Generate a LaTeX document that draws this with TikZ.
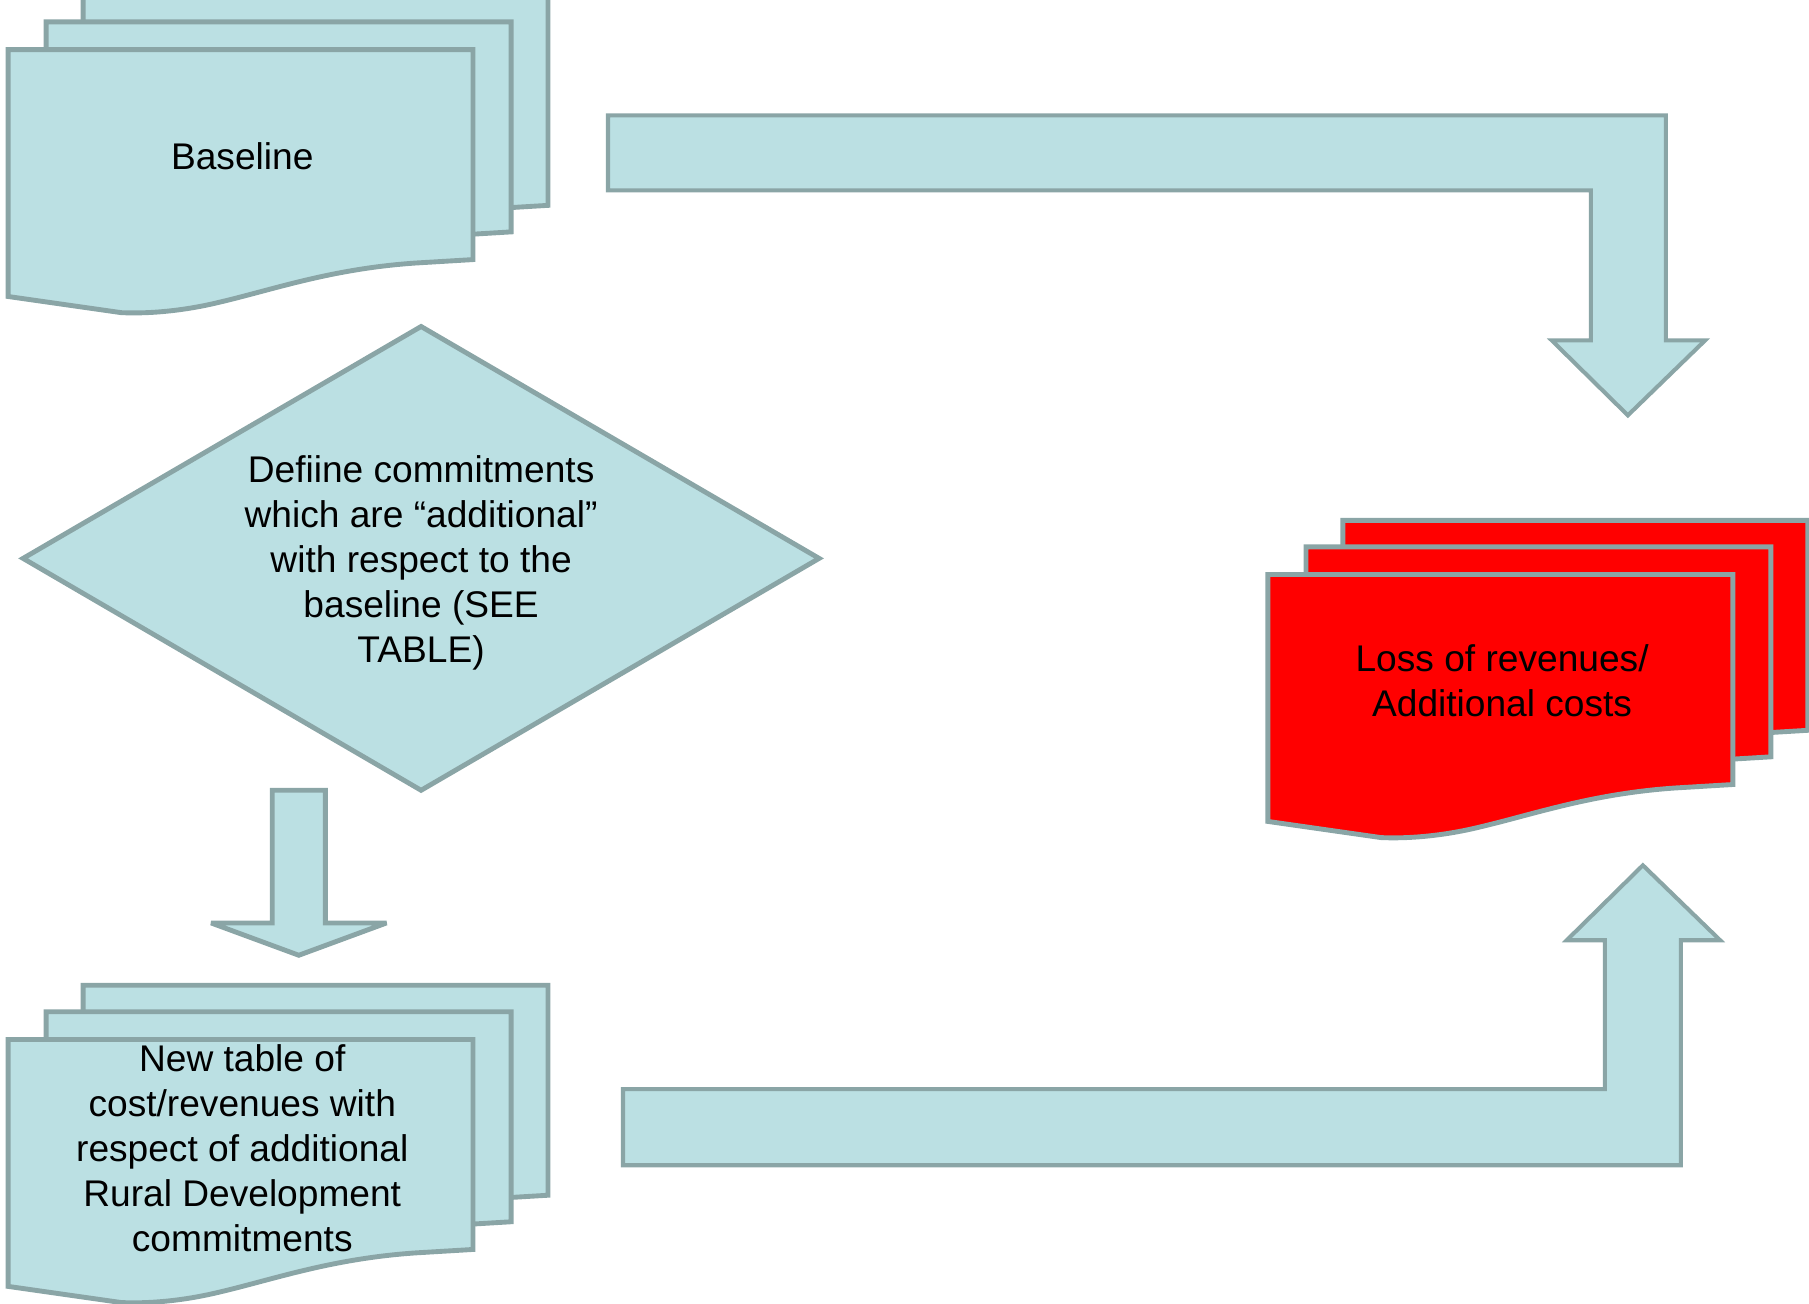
\documentclass[tikz,border=0pt]{standalone}
\usepackage{fontspec}
\setmainfont{Liberation Sans}
\definecolor{docfill}{RGB}{187,224,227}
\definecolor{docline}{RGB}{138,165,166}
\definecolor{docred}{RGB}{255,0,0}
\tikzset{
  sheet/.style={draw=docline, line width=1.2pt, line join=miter},
  blockarrow/.style={draw=docline, fill=docfill, line width=1pt, line join=miter, miter limit=3},
  label/.style={align=center, text=black, font=\fontsize{9.15}{11.1}\selectfont, inner sep=0pt}
}
\newcommand{\docsheet}[3]{%
  \filldraw[sheet, fill=#3, shift={(#1,#2)}] (0,0) -- (403,0) -- (403,182) -- (353,185)
    .. controls (280,190) and (230,208) .. (183,219)
    .. controls (150,227) and (120,229) .. (98,228) -- (0,214) -- cycle;}
\newcommand{\docstack}[3]{%
  \docsheet{#1+65}{#2-47}{#3}
  \docsheet{#1+33}{#2-24}{#3}
  \docsheet{#1}{#2}{#3}}
\begin{document}
\begin{tikzpicture}[x=0.01cm, y=-0.01cm]
\useasboundingbox (0,0) rectangle (1568,1130);
% document stacks
\docstack{7}{43}{docfill}
\docstack{7}{901}{docfill}
\docstack{1099}{498}{docred}
% diamond
\filldraw[sheet, fill=docfill] (365,283) -- (710,484) -- (365,685) -- (20,484) -- cycle;
% labels
\node[label] (baseline) at (210,135) {Baseline};
\node[label] (define) at (365,488) {Defiine commitments\\which are “additional”\\with respect to the\\baseline (SEE\\TABLE)};
\node[label] (newtable) at (210,995) {New table of\\cost/revenues with\\respect of additional\\Rural Development\\commitments};
\node[label] (loss) at (1302,590) {Loss of revenues/\\Additional costs};
% block arrows
\filldraw[blockarrow] (527,100) -- (1444,100) -- (1444,295) -- (1478,295) -- (1411,360)
  -- (1345,295) -- (1379,295) -- (1379,165) -- (527,165) -- cycle;
\filldraw[blockarrow] (540,1010) -- (1457,1010) -- (1457,815) -- (1491,815) -- (1424,750)
  -- (1358,815) -- (1391,815) -- (1391,944) -- (540,944) -- cycle;
\filldraw[blockarrow, line width=1.2pt] (236,685) -- (282,685) -- (282,800) -- (335,800) -- (259,828)
  -- (183,800) -- (236,800) -- cycle;
\end{tikzpicture}
\end{document}
